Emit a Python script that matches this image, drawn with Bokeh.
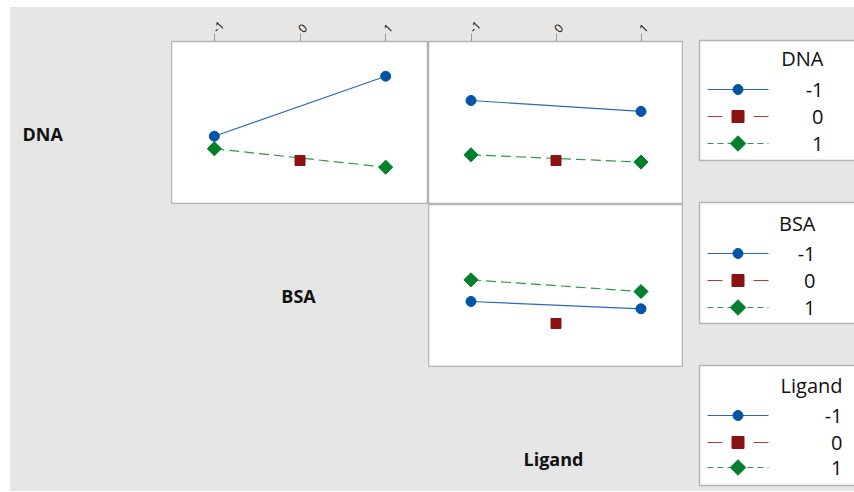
from math import pi
from bokeh.plotting import figure
from bokeh.layouts import row, column
from bokeh.models import Range1d, LinearAxis, FixedTicker
from bokeh.core.properties import value
from bokeh.embed import file_html
from bokeh.resources import INLINE

# ---------------- data ----------------
factors = ["DNA", "BSA", "Ligand"]
levels = ["-1", "0", "1"]
x_levels = [-1, 0, 1]
x_ends = [-1, 1]
center_mean = 2.70          # center point (level 0) mean

# DNA lines across BSA
dna_by_bsa_m1 = [4.19, 7.87]
dna_by_bsa_p1 = [3.42, 2.29]
# DNA lines across Ligand
dna_by_lig_m1 = [6.38, 5.71]
dna_by_lig_p1 = [3.05, 2.60]
# BSA lines across Ligand
bsa_by_lig_m1 = [4.05, 3.60]
bsa_by_lig_p1 = [5.38, 4.66]

# ---------------- styles ----------------
BG = "#e6e6e6"
FONT = "Open Sans"
TXT = "#111111"
BLUE_L, BLUE_M = "#2d68b8", "#0054a6"
RED_L, RED_M = "#b03a3a", "#8c1111"
GREEN_L, GREEN_M = "#2f9a45", "#00802b"
TOP = 34   # top axis band height


def base(w, h, xr, yr):
    p = figure(width=w, height=h, x_range=xr, y_range=yr,
               output_backend="svg", toolbar_location=None,
               x_axis_location=None, y_axis_location=None,
               min_border=0)
    p.grid.visible = False
    p.background_fill_color = BG
    p.border_fill_color = BG
    p.outline_line_color = None
    return p


def panel(w, h, m1, p1, top_axis):
    p = base(w, h, Range1d(-1.5, 1.5), Range1d(0, 10))
    p.background_fill_color = "white"
    p.outline_line_color = "#b4b4b4"
    p.outline_line_width = 1.5
    if top_axis:
        ax = LinearAxis(ticker=FixedTicker(ticks=x_levels),
                        major_label_overrides={k: v for k, v in zip(x_levels, levels)})
        ax.axis_line_color = None
        ax.major_tick_line_color = "#9a9a9a"
        ax.major_tick_out = 8
        ax.major_tick_in = 0
        ax.minor_tick_line_color = None
        ax.major_label_text_font = FONT
        ax.major_label_text_font_size = "12px"
        ax.major_label_text_color = TXT
        ax.major_label_orientation = pi / 4
        ax.major_label_standoff = 3
        p.add_layout(ax, "above")
        p.min_border_top = TOP
    # lines
    p.line(x_ends, m1, line_color=BLUE_L, line_width=1.2)
    p.line(x_ends, p1, line_color=GREEN_L, line_width=1.2, line_dash="10 5")
    # markers
    p.scatter(x_ends, m1, marker="circle", size=10, fill_color=BLUE_M, line_color=BLUE_M)
    p.scatter([x_levels[1]], [center_mean], marker="square", size=10,
              fill_color=RED_M, line_color=RED_M)
    p.scatter(x_ends, p1, marker="square", angle=pi / 4, size=10,
              fill_color=GREEN_M, line_color=GREEN_M)
    return p


def blank(w, h, label=None, x=0, y=0, align="left", top=0):
    p = base(w, h, Range1d(0, w), Range1d(h - top, 0))
    p.min_border_top = top
    if label:
        p.text([x], [y - top], text=[label], text_font=value(FONT), text_font_size="18px",
               text_font_style="bold", text_align=align, text_baseline="middle",
               text_color=TXT)
    return p


def legend_fig(h, title, box_top, box_bottom, title_y, row_ys, right_x):
    p = blank(171, h)
    p.quad(left=16, right=185, top=box_top, bottom=box_bottom,
           fill_color="white", line_color="#b4b4b4", line_width=1.5)
    p.text([right_x], [title_y], text=[title], text_font=value(FONT), text_font_size="20px",
           text_align="right", text_baseline="middle", text_color=TXT)
    styles = [
        dict(lc=BLUE_L, mc=BLUE_M, marker="circle", size=10, angle=0, dash="solid"),
        dict(lc=RED_L, mc=RED_M, marker="square", size=12, angle=0, dash="15 31"),
        dict(lc=GREEN_L, mc=GREEN_M, marker="square", size=11, angle=pi / 4, dash="6 4"),
    ]
    for lab, yy, st in zip(levels, row_ys, styles):
        p.line([24, 85], [yy, yy], line_color=st["lc"], line_width=1.2, line_dash=st["dash"])
        p.scatter([54.5], [yy], marker=st["marker"], size=st["size"], angle=st["angle"],
                  fill_color=st["mc"], line_color=st["mc"])
        p.text([right_x], [yy], text=[lab], text_font=value(FONT), text_font_size="20px",
               text_align="right", text_baseline="middle", text_color=TXT)
    return p


# ---------------- layout ----------------
W0, W1, W2, W3 = 161, 257, 255, 171
H0, H1, H2 = 197, 163, 124
bgstyle = {"background-color": BG}

r0 = row(blank(W0, H0, factors[0], 12, 126, top=TOP),
         panel(W1, H0, dna_by_bsa_m1, dna_by_bsa_p1, True),
         panel(W2, H0, dna_by_lig_m1, dna_by_lig_p1, True), styles=bgstyle)
r1 = row(blank(W0, H1),
         blank(W1, H1, factors[1], 127, 91, "center"),
         panel(W2, H1, bsa_by_lig_m1, bsa_by_lig_p1, False), styles=bgstyle)
r2 = row(blank(W0, H2),
         blank(W1, H2),
         blank(W2, H2, factors[2], 125, 91, "center"), styles=bgstyle)
left = column(r0, r1, r2, styles=bgstyle)

legs = column(
    legend_fig(183, factors[0], 33, 153, 51, [82, 109, 136], 140),
    legend_fig(160, factors[1], 12, 133, 33, [63, 90, 117], 132),
    legend_fig(141, factors[2], 15, 135, 35, [65, 92, 117], 159),
    styles=bgstyle,
)

layout = row(left, legs, margin=(7, 0, 0, 10), styles=bgstyle)

open("out.html", "w").write(file_html(layout, INLINE))
